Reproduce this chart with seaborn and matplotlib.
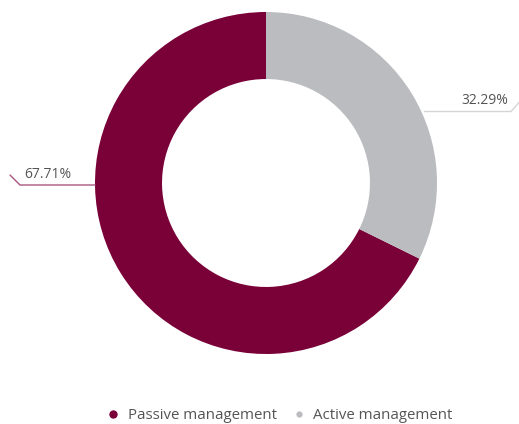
import numpy as np
import matplotlib
matplotlib.use("Agg")
import matplotlib.pyplot as plt
from matplotlib.lines import Line2D
import seaborn as sns

sns.set_theme(style="white")
plt.rcParams["font.family"] = ["Open Sans", "DejaVu Sans"]

categories = ["Passive management", "Active management"]
shares = [67.71, 32.29]
colors = ["#7a0038", "#bbbcc0"]
connector_colors = ["#a9567f", "#d4d5d8"]
marker_sizes = [6, 4.5]

W, H = 519, 424
fig = plt.figure(figsize=(W / 100, H / 100), dpi=100)
ax = fig.add_axes([0, 0, 1, 1])

cx, cy, R = 266, 241, 171
ax.pie(shares, colors=colors, startangle=90, counterclock=True,
       center=(cx, cy), radius=R,
       wedgeprops=dict(width=R * 0.392, edgecolor="none"))
ax.set_xlim(0, W)
ax.set_ylim(0, H)
ax.set_aspect("equal")
ax.axis("off")

# connector lines: horizontal run at the label height meeting the ring edge
def ring_x(y, side):
    dy = y - cy
    return cx + side * np.sqrt(R ** 2 - dy ** 2)

label_kw = dict(fontsize=10, color="#555555", fontweight="normal")

# right-hand label (active)
y_r = H - 111.5
x_edge = ring_x(y_r, 1) + 3
ax.plot([x_edge, 511, 519], [y_r, y_r, y_r + 9], color=connector_colors[1], lw=1)
ax.text(508, y_r + 3, f"{shares[1]:.2f}%", ha="right", va="bottom", **label_kw)

# left-hand label (passive)
y_l = H - 185
x_edge = ring_x(y_l, -1)
ax.plot([x_edge, 20, 10], [y_l, y_l, y_l + 10], color=connector_colors[0], lw=1)
ax.text(24, y_l + 3, f"{shares[0]:.2f}%", ha="left", va="bottom", **label_kw)

handles = [Line2D([0], [0], marker="o", linestyle="none", markersize=ms,
                  markerfacecolor=c, markeredgecolor="none")
           for c, ms in zip(colors, marker_sizes)]
leg = ax.legend(handles, categories, loc="center", bbox_to_anchor=(280 / W, 1 - 415.5 / H),
                ncol=2, frameon=False, handletextpad=0.55,
                columnspacing=1.1, handlelength=0.8,
                prop=dict(family=["Open Sans", "DejaVu Sans"], size=10.8))
for t in leg.get_texts():
    t.set_color("#555555")

fig.savefig("out.png", dpi=100)
